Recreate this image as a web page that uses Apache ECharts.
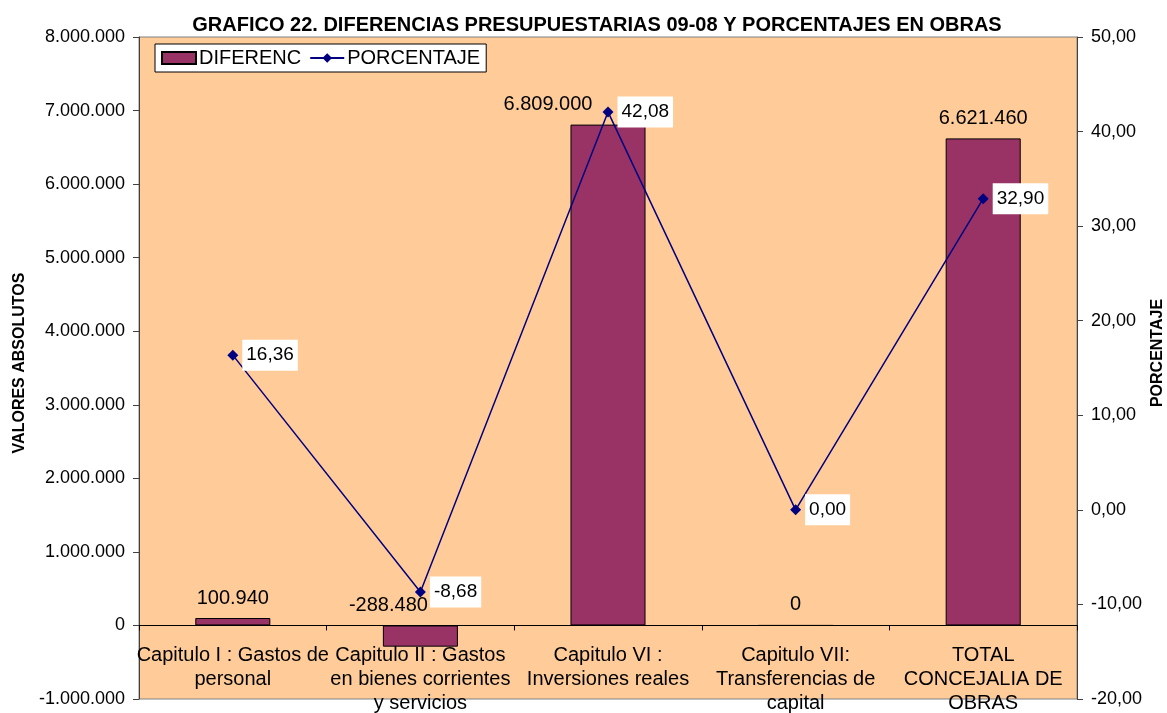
<!DOCTYPE html>
<html>
<head>
<meta charset="utf-8">
<title>Grafico 22</title>
<script src="https://cdn.jsdelivr.net/npm/echarts@6/dist/echarts.min.js"></script>
<style>
  html, body { margin: 0; padding: 0; background: #fff; }
  #chart { width: 1167px; height: 713px; }
</style>
</head>
<body>
<div id="chart"></div>
<script>
// datos
const categorias = [
  'Capitulo I : Gastos de\npersonal',
  'Capitulo II : Gastos\nen bienes corrientes\ny servicios',
  'Capitulo VI :\nInversiones reales',
  'Capitulo VII:\nTransferencias de\ncapital',
  'TOTAL\nCONCEJALIA DE\nOBRAS'
]
const diferenc = [100940, -288480, 6809000, 0, 6621460]
const porcentaje = [16.36, -8.68, 42.08, 0.00, 32.90]

const FONT = '"Liberation Sans", Arial, sans-serif'

// 1234567 -> 1.234.567
const miles = (v) => {
  const s = Math.abs(Math.round(v)).toString().replace(/\B(?=(\d{3})+(?!\d))/g, '.')
  return (v < 0 ? '-' : '') + s
}
const decimal = (v) => Number(v).toFixed(2).replace('.', ',')

// etiquetas movidas a mano en el original
const desplazar = { 1: [-32, 0], 2: [-60, 0] }

const chart = echarts.init(document.getElementById('chart'))

const option = {
  animation: false,
  backgroundColor: '#fff',
  textStyle: { fontFamily: FONT },
  title: {
    text: 'GRAFICO 22. DIFERENCIAS PRESUPUESTARIAS 09-08 Y PORCENTAJES EN OBRAS',
    left: 592,
    top: 10,
    textAlign: 'center',
    textStyle: { fontFamily: FONT, fontSize: 20, fontWeight: 'bold', color: '#000' }
  },
  legend: {
    left: 155,
    top: 44,
    orient: 'horizontal',
    backgroundColor: '#fff',
    borderColor: '#000',
    borderWidth: 1,
    borderRadius: 0,
    padding: [4, 6, 4, 6],
    itemGap: 8,
    itemWidth: 34,
    itemHeight: 12,
    textStyle: { fontFamily: FONT, fontSize: 20, color: '#000', padding: [0, 0, 0, -2] },
    data: [
      { name: 'DIFERENC', icon: 'rect' },
      { name: 'PORCENTAJE' }
    ]
  },
  grid: {
    left: 139,
    right: 90,
    top: 37,
    bottom: 14,
    outerBoundsMode: 'none',
    containLabel: false,
    show: true,
    backgroundColor: '#FFCC99',
    borderColor: '#808080',
    borderWidth: 1
  },
  xAxis: {
    type: 'category',
    data: categorias,
    axisLine: { onZero: true, onZeroAxisIndex: 0, lineStyle: { color: '#000', width: 1 } },
    axisTick: { show: true, length: 5, lineStyle: { color: '#000' } },
    axisLabel: {
      interval: 0,
      // las etiquetas van pegadas a la linea del cero, no al borde inferior
      margin: -56,
      fontFamily: FONT,
      fontSize: 20,
      lineHeight: 24,
      color: '#000',
      align: 'center'
    },
    splitLine: { show: false }
  },
  yAxis: [
    {
      type: 'value',
      min: -1000000,
      max: 8000000,
      interval: 1000000,
      position: 'left',
      axisLine: { show: true, onZero: false, lineStyle: { color: '#404040' } },
      axisTick: { show: true, length: 6, lineStyle: { color: '#404040' } },
      axisLabel: { fontFamily: FONT, fontSize: 18, color: '#000', margin: 14, formatter: miles },
      splitLine: { show: false }
    },
    {
      type: 'value',
      min: -20,
      max: 50,
      interval: 10,
      position: 'right',
      axisLine: { show: true, onZero: false, lineStyle: { color: '#404040' } },
      axisTick: { show: true, length: 6, lineStyle: { color: '#404040' } },
      axisLabel: { fontFamily: FONT, fontSize: 18, color: '#000', margin: 14, formatter: decimal },
      splitLine: { show: false }
    }
  ],
  graphic: [
    {
      type: 'text',
      x: 20,
      y: 363,
      rotation: Math.PI / 2,
      style: {
        text: 'VALORES ABSOLUTOS',
        font: 'bold 16px ' + FONT,
        fill: '#000',
        textAlign: 'center',
        textVerticalAlign: 'middle'
      }
    },
    {
      type: 'text',
      x: 1158,
      y: 353,
      rotation: Math.PI / 2,
      style: {
        text: 'PORCENTAJE',
        font: 'bold 16px ' + FONT,
        fill: '#000',
        textAlign: 'center',
        textVerticalAlign: 'middle'
      }
    }
  ],
  series: [
    {
      name: 'DIFERENC',
      type: 'bar',
      yAxisIndex: 0,
      barWidth: '40%',
      itemStyle: { color: '#993366', borderColor: '#000', borderWidth: 1 },
      data: diferenc.map((v, i) => ({
        value: v,
        label: desplazar[i] ? { offset: desplazar[i] } : undefined
      })),
      label: {
        show: true,
        position: 'top',
        distance: 10,
        fontFamily: FONT,
        fontSize: 20,
        color: '#000',
        formatter: (p) => miles(p.value)
      },
      z: 2
    },
    {
      name: 'PORCENTAJE',
      type: 'line',
      yAxisIndex: 1,
      data: porcentaje,
      symbol: 'diamond',
      symbolSize: 11,
      lineStyle: { color: '#000080', width: 1.5 },
      itemStyle: { color: '#000080' },
      label: {
        show: true,
        position: 'right',
        distance: 4,
        fontFamily: FONT,
        fontSize: 19,
        color: '#000',
        backgroundColor: '#fff',
        padding: [6, 4, 6, 4],
        formatter: (p) => decimal(p.value)
      },
      z: 3
    }
  ]
}

chart.setOption(option)
</script>
</body>
</html>
